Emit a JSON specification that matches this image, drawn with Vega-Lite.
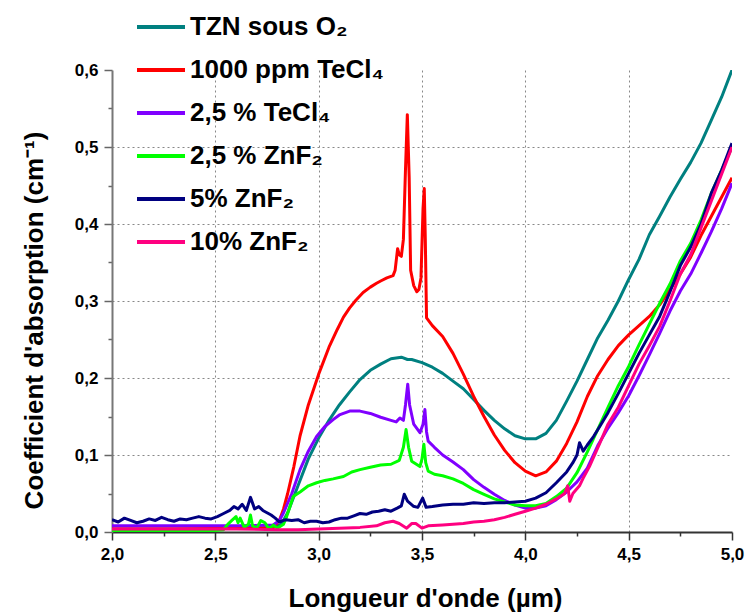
{
  "$schema": "https://vega.github.io/schema/vega-lite/v6.json",
  "width": 620,
  "height": 462,
  "autosize": {"type": "none"},
  "padding": {"left": 112, "top": 70, "right": 15, "bottom": 80},
  "background": "white",
  "config": {
    "view": {"stroke": null},
    "font": "Liberation Sans"
  },
  "datasets": {
    "spectra": [
      {"s":"TZN sous O₂","x":2.0,"y":0.004},{"s":"TZN sous O₂","x":2.2,"y":0.004},{"s":"TZN sous O₂","x":2.4,"y":0.004},{"s":"TZN sous O₂","x":2.6,"y":0.005},{"s":"TZN sous O₂","x":2.7,"y":0.005},{"s":"TZN sous O₂","x":2.78,"y":0.006},{"s":"TZN sous O₂","x":2.82,"y":0.01},{"s":"TZN sous O₂","x":2.85,"y":0.025},{"s":"TZN sous O₂","x":2.9,"y":0.06},{"s":"TZN sous O₂","x":2.95,"y":0.095},{"s":"TZN sous O₂","x":3.0,"y":0.122},{"s":"TZN sous O₂","x":3.05,"y":0.145},{"s":"TZN sous O₂","x":3.1,"y":0.165},{"s":"TZN sous O₂","x":3.15,"y":0.182},{"s":"TZN sous O₂","x":3.2,"y":0.198},{"s":"TZN sous O₂","x":3.25,"y":0.21},{"s":"TZN sous O₂","x":3.3,"y":0.218},{"s":"TZN sous O₂","x":3.35,"y":0.225},{"s":"TZN sous O₂","x":3.4,"y":0.227},{"s":"TZN sous O₂","x":3.43,"y":0.224},{"s":"TZN sous O₂","x":3.45,"y":0.224},{"s":"TZN sous O₂","x":3.5,"y":0.22},{"s":"TZN sous O₂","x":3.55,"y":0.214},{"s":"TZN sous O₂","x":3.6,"y":0.206},{"s":"TZN sous O₂","x":3.65,"y":0.196},{"s":"TZN sous O₂","x":3.7,"y":0.186},{"s":"TZN sous O₂","x":3.75,"y":0.172},{"s":"TZN sous O₂","x":3.8,"y":0.158},{"s":"TZN sous O₂","x":3.85,"y":0.145},{"s":"TZN sous O₂","x":3.9,"y":0.134},{"s":"TZN sous O₂","x":3.95,"y":0.125},{"s":"TZN sous O₂","x":4.0,"y":0.121},{"s":"TZN sous O₂","x":4.05,"y":0.121},{"s":"TZN sous O₂","x":4.1,"y":0.128},{"s":"TZN sous O₂","x":4.15,"y":0.145},{"s":"TZN sous O₂","x":4.2,"y":0.17},{"s":"TZN sous O₂","x":4.25,"y":0.196},{"s":"TZN sous O₂","x":4.3,"y":0.224},{"s":"TZN sous O₂","x":4.35,"y":0.252},{"s":"TZN sous O₂","x":4.4,"y":0.275},{"s":"TZN sous O₂","x":4.45,"y":0.3},{"s":"TZN sous O₂","x":4.5,"y":0.328},{"s":"TZN sous O₂","x":4.55,"y":0.354},{"s":"TZN sous O₂","x":4.6,"y":0.386},{"s":"TZN sous O₂","x":4.65,"y":0.41},{"s":"TZN sous O₂","x":4.7,"y":0.435},{"s":"TZN sous O₂","x":4.75,"y":0.458},{"s":"TZN sous O₂","x":4.8,"y":0.48},{"s":"TZN sous O₂","x":4.85,"y":0.505},{"s":"TZN sous O₂","x":4.9,"y":0.535},{"s":"TZN sous O₂","x":4.95,"y":0.565},{"s":"TZN sous O₂","x":5.0,"y":0.6},

      {"s":"1000 ppm TeCl₄","x":2.0,"y":0.004},{"s":"1000 ppm TeCl₄","x":2.3,"y":0.004},{"s":"1000 ppm TeCl₄","x":2.6,"y":0.005},{"s":"1000 ppm TeCl₄","x":2.78,"y":0.006},{"s":"1000 ppm TeCl₄","x":2.81,"y":0.015},{"s":"1000 ppm TeCl₄","x":2.83,"y":0.03},{"s":"1000 ppm TeCl₄","x":2.85,"y":0.05},{"s":"1000 ppm TeCl₄","x":2.88,"y":0.085},{"s":"1000 ppm TeCl₄","x":2.91,"y":0.125},{"s":"1000 ppm TeCl₄","x":2.95,"y":0.165},{"s":"1000 ppm TeCl₄","x":3.0,"y":0.205},{"s":"1000 ppm TeCl₄","x":3.05,"y":0.24},{"s":"1000 ppm TeCl₄","x":3.09,"y":0.263},{"s":"1000 ppm TeCl₄","x":3.12,"y":0.279},{"s":"1000 ppm TeCl₄","x":3.15,"y":0.291},{"s":"1000 ppm TeCl₄","x":3.18,"y":0.301},{"s":"1000 ppm TeCl₄","x":3.215,"y":0.311},{"s":"1000 ppm TeCl₄","x":3.25,"y":0.318},{"s":"1000 ppm TeCl₄","x":3.28,"y":0.323},{"s":"1000 ppm TeCl₄","x":3.3,"y":0.326},{"s":"1000 ppm TeCl₄","x":3.33,"y":0.33},{"s":"1000 ppm TeCl₄","x":3.36,"y":0.333},{"s":"1000 ppm TeCl₄","x":3.37,"y":0.34},{"s":"1000 ppm TeCl₄","x":3.382,"y":0.368},{"s":"1000 ppm TeCl₄","x":3.39,"y":0.36},{"s":"1000 ppm TeCl₄","x":3.4,"y":0.358},{"s":"1000 ppm TeCl₄","x":3.41,"y":0.38},{"s":"1000 ppm TeCl₄","x":3.42,"y":0.47},{"s":"1000 ppm TeCl₄","x":3.429,"y":0.542},{"s":"1000 ppm TeCl₄","x":3.438,"y":0.46},{"s":"1000 ppm TeCl₄","x":3.445,"y":0.34},{"s":"1000 ppm TeCl₄","x":3.46,"y":0.32},{"s":"1000 ppm TeCl₄","x":3.475,"y":0.312},{"s":"1000 ppm TeCl₄","x":3.485,"y":0.315},{"s":"1000 ppm TeCl₄","x":3.495,"y":0.33},{"s":"1000 ppm TeCl₄","x":3.505,"y":0.42},{"s":"1000 ppm TeCl₄","x":3.511,"y":0.446},{"s":"1000 ppm TeCl₄","x":3.516,"y":0.38},{"s":"1000 ppm TeCl₄","x":3.522,"y":0.278},{"s":"1000 ppm TeCl₄","x":3.55,"y":0.268},{"s":"1000 ppm TeCl₄","x":3.6,"y":0.254},{"s":"1000 ppm TeCl₄","x":3.65,"y":0.232},{"s":"1000 ppm TeCl₄","x":3.7,"y":0.205},{"s":"1000 ppm TeCl₄","x":3.75,"y":0.176},{"s":"1000 ppm TeCl₄","x":3.8,"y":0.15},{"s":"1000 ppm TeCl₄","x":3.85,"y":0.126},{"s":"1000 ppm TeCl₄","x":3.9,"y":0.106},{"s":"1000 ppm TeCl₄","x":3.95,"y":0.09},{"s":"1000 ppm TeCl₄","x":4.0,"y":0.079},{"s":"1000 ppm TeCl₄","x":4.05,"y":0.073},{"s":"1000 ppm TeCl₄","x":4.1,"y":0.078},{"s":"1000 ppm TeCl₄","x":4.15,"y":0.092},{"s":"1000 ppm TeCl₄","x":4.2,"y":0.115},{"s":"1000 ppm TeCl₄","x":4.25,"y":0.143},{"s":"1000 ppm TeCl₄","x":4.3,"y":0.176},{"s":"1000 ppm TeCl₄","x":4.35,"y":0.203},{"s":"1000 ppm TeCl₄","x":4.4,"y":0.224},{"s":"1000 ppm TeCl₄","x":4.45,"y":0.242},{"s":"1000 ppm TeCl₄","x":4.5,"y":0.256},{"s":"1000 ppm TeCl₄","x":4.55,"y":0.268},{"s":"1000 ppm TeCl₄","x":4.6,"y":0.28},{"s":"1000 ppm TeCl₄","x":4.65,"y":0.295},{"s":"1000 ppm TeCl₄","x":4.7,"y":0.315},{"s":"1000 ppm TeCl₄","x":4.75,"y":0.335},{"s":"1000 ppm TeCl₄","x":4.8,"y":0.357},{"s":"1000 ppm TeCl₄","x":4.85,"y":0.385},{"s":"1000 ppm TeCl₄","x":4.9,"y":0.41},{"s":"1000 ppm TeCl₄","x":4.95,"y":0.435},{"s":"1000 ppm TeCl₄","x":5.0,"y":0.46},

      {"s":"2,5 % TeCl₄","x":2.0,"y":0.008},{"s":"2,5 % TeCl₄","x":2.3,"y":0.008},{"s":"2,5 % TeCl₄","x":2.6,"y":0.008},{"s":"2,5 % TeCl₄","x":2.78,"y":0.009},{"s":"2,5 % TeCl₄","x":2.81,"y":0.015},{"s":"2,5 % TeCl₄","x":2.83,"y":0.025},{"s":"2,5 % TeCl₄","x":2.87,"y":0.05},{"s":"2,5 % TeCl₄","x":2.91,"y":0.081},{"s":"2,5 % TeCl₄","x":2.95,"y":0.105},{"s":"2,5 % TeCl₄","x":2.99,"y":0.124},{"s":"2,5 % TeCl₄","x":3.03,"y":0.137},{"s":"2,5 % TeCl₄","x":3.07,"y":0.146},{"s":"2,5 % TeCl₄","x":3.1,"y":0.152},{"s":"2,5 % TeCl₄","x":3.15,"y":0.157},{"s":"2,5 % TeCl₄","x":3.2,"y":0.157},{"s":"2,5 % TeCl₄","x":3.25,"y":0.154},{"s":"2,5 % TeCl₄","x":3.3,"y":0.149},{"s":"2,5 % TeCl₄","x":3.35,"y":0.145},{"s":"2,5 % TeCl₄","x":3.375,"y":0.143},{"s":"2,5 % TeCl₄","x":3.393,"y":0.148},{"s":"2,5 % TeCl₄","x":3.41,"y":0.145},{"s":"2,5 % TeCl₄","x":3.42,"y":0.165},{"s":"2,5 % TeCl₄","x":3.431,"y":0.192},{"s":"2,5 % TeCl₄","x":3.44,"y":0.165},{"s":"2,5 % TeCl₄","x":3.46,"y":0.14},{"s":"2,5 % TeCl₄","x":3.49,"y":0.129},{"s":"2,5 % TeCl₄","x":3.505,"y":0.14},{"s":"2,5 % TeCl₄","x":3.514,"y":0.159},{"s":"2,5 % TeCl₄","x":3.522,"y":0.13},{"s":"2,5 % TeCl₄","x":3.53,"y":0.118},{"s":"2,5 % TeCl₄","x":3.56,"y":0.11},{"s":"2,5 % TeCl₄","x":3.6,"y":0.1},{"s":"2,5 % TeCl₄","x":3.65,"y":0.091},{"s":"2,5 % TeCl₄","x":3.7,"y":0.081},{"s":"2,5 % TeCl₄","x":3.75,"y":0.068},{"s":"2,5 % TeCl₄","x":3.8,"y":0.058},{"s":"2,5 % TeCl₄","x":3.85,"y":0.049},{"s":"2,5 % TeCl₄","x":3.9,"y":0.041},{"s":"2,5 % TeCl₄","x":3.95,"y":0.035},{"s":"2,5 % TeCl₄","x":4.0,"y":0.031},{"s":"2,5 % TeCl₄","x":4.05,"y":0.031},{"s":"2,5 % TeCl₄","x":4.1,"y":0.034},{"s":"2,5 % TeCl₄","x":4.15,"y":0.042},{"s":"2,5 % TeCl₄","x":4.2,"y":0.052},{"s":"2,5 % TeCl₄","x":4.25,"y":0.065},{"s":"2,5 % TeCl₄","x":4.3,"y":0.083},{"s":"2,5 % TeCl₄","x":4.35,"y":0.112},{"s":"2,5 % TeCl₄","x":4.4,"y":0.135},{"s":"2,5 % TeCl₄","x":4.45,"y":0.155},{"s":"2,5 % TeCl₄","x":4.5,"y":0.177},{"s":"2,5 % TeCl₄","x":4.55,"y":0.203},{"s":"2,5 % TeCl₄","x":4.6,"y":0.23},{"s":"2,5 % TeCl₄","x":4.65,"y":0.258},{"s":"2,5 % TeCl₄","x":4.7,"y":0.287},{"s":"2,5 % TeCl₄","x":4.75,"y":0.313},{"s":"2,5 % TeCl₄","x":4.8,"y":0.335},{"s":"2,5 % TeCl₄","x":4.85,"y":0.362},{"s":"2,5 % TeCl₄","x":4.9,"y":0.39},{"s":"2,5 % TeCl₄","x":4.95,"y":0.42},{"s":"2,5 % TeCl₄","x":5.0,"y":0.453},

      {"s":"2,5 % ZnF₂","x":2.0,"y":0.002},{"s":"2,5 % ZnF₂","x":2.2,"y":0.002},{"s":"2,5 % ZnF₂","x":2.4,"y":0.002},{"s":"2,5 % ZnF₂","x":2.5,"y":0.002},{"s":"2,5 % ZnF₂","x":2.54,"y":0.003},{"s":"2,5 % ZnF₂","x":2.56,"y":0.01},{"s":"2,5 % ZnF₂","x":2.58,"y":0.015},{"s":"2,5 % ZnF₂","x":2.6,"y":0.02},{"s":"2,5 % ZnF₂","x":2.61,"y":0.012},{"s":"2,5 % ZnF₂","x":2.62,"y":0.018},{"s":"2,5 % ZnF₂","x":2.64,"y":0.006},{"s":"2,5 % ZnF₂","x":2.66,"y":0.01},{"s":"2,5 % ZnF₂","x":2.67,"y":0.022},{"s":"2,5 % ZnF₂","x":2.68,"y":0.008},{"s":"2,5 % ZnF₂","x":2.7,"y":0.005},{"s":"2,5 % ZnF₂","x":2.72,"y":0.015},{"s":"2,5 % ZnF₂","x":2.74,"y":0.012},{"s":"2,5 % ZnF₂","x":2.76,"y":0.004},{"s":"2,5 % ZnF₂","x":2.78,"y":0.009},{"s":"2,5 % ZnF₂","x":2.8,"y":0.005},{"s":"2,5 % ZnF₂","x":2.83,"y":0.01},{"s":"2,5 % ZnF₂","x":2.845,"y":0.02},{"s":"2,5 % ZnF₂","x":2.877,"y":0.046},{"s":"2,5 % ZnF₂","x":2.91,"y":0.052},{"s":"2,5 % ZnF₂","x":2.95,"y":0.06},{"s":"2,5 % ZnF₂","x":2.99,"y":0.064},{"s":"2,5 % ZnF₂","x":3.03,"y":0.067},{"s":"2,5 % ZnF₂","x":3.07,"y":0.069},{"s":"2,5 % ZnF₂","x":3.12,"y":0.072},{"s":"2,5 % ZnF₂","x":3.16,"y":0.078},{"s":"2,5 % ZnF₂","x":3.2,"y":0.081},{"s":"2,5 % ZnF₂","x":3.25,"y":0.084},{"s":"2,5 % ZnF₂","x":3.3,"y":0.087},{"s":"2,5 % ZnF₂","x":3.35,"y":0.088},{"s":"2,5 % ZnF₂","x":3.39,"y":0.093},{"s":"2,5 % ZnF₂","x":3.41,"y":0.11},{"s":"2,5 % ZnF₂","x":3.423,"y":0.133},{"s":"2,5 % ZnF₂","x":3.435,"y":0.11},{"s":"2,5 % ZnF₂","x":3.45,"y":0.092},{"s":"2,5 % ZnF₂","x":3.49,"y":0.085},{"s":"2,5 % ZnF₂","x":3.5,"y":0.095},{"s":"2,5 % ZnF₂","x":3.509,"y":0.114},{"s":"2,5 % ZnF₂","x":3.518,"y":0.09},{"s":"2,5 % ZnF₂","x":3.53,"y":0.079},{"s":"2,5 % ZnF₂","x":3.56,"y":0.075},{"s":"2,5 % ZnF₂","x":3.6,"y":0.073},{"s":"2,5 % ZnF₂","x":3.65,"y":0.069},{"s":"2,5 % ZnF₂","x":3.7,"y":0.063},{"s":"2,5 % ZnF₂","x":3.75,"y":0.055},{"s":"2,5 % ZnF₂","x":3.8,"y":0.049},{"s":"2,5 % ZnF₂","x":3.85,"y":0.043},{"s":"2,5 % ZnF₂","x":3.9,"y":0.039},{"s":"2,5 % ZnF₂","x":3.95,"y":0.035},{"s":"2,5 % ZnF₂","x":4.0,"y":0.034},{"s":"2,5 % ZnF₂","x":4.05,"y":0.034},{"s":"2,5 % ZnF₂","x":4.1,"y":0.037},{"s":"2,5 % ZnF₂","x":4.15,"y":0.046},{"s":"2,5 % ZnF₂","x":4.2,"y":0.057},{"s":"2,5 % ZnF₂","x":4.25,"y":0.077},{"s":"2,5 % ZnF₂","x":4.3,"y":0.104},{"s":"2,5 % ZnF₂","x":4.35,"y":0.133},{"s":"2,5 % ZnF₂","x":4.4,"y":0.162},{"s":"2,5 % ZnF₂","x":4.45,"y":0.19},{"s":"2,5 % ZnF₂","x":4.5,"y":0.215},{"s":"2,5 % ZnF₂","x":4.55,"y":0.243},{"s":"2,5 % ZnF₂","x":4.6,"y":0.27},{"s":"2,5 % ZnF₂","x":4.65,"y":0.297},{"s":"2,5 % ZnF₂","x":4.7,"y":0.322},{"s":"2,5 % ZnF₂","x":4.75,"y":0.352},{"s":"2,5 % ZnF₂","x":4.8,"y":0.375},{"s":"2,5 % ZnF₂","x":4.85,"y":0.405},{"s":"2,5 % ZnF₂","x":4.9,"y":0.44},{"s":"2,5 % ZnF₂","x":4.95,"y":0.47},{"s":"2,5 % ZnF₂","x":5.0,"y":0.5},

      {"s":"5% ZnF₂","x":2.0,"y":0.016},{"s":"5% ZnF₂","x":2.03,"y":0.013},{"s":"5% ZnF₂","x":2.06,"y":0.018},{"s":"5% ZnF₂","x":2.09,"y":0.015},{"s":"5% ZnF₂","x":2.12,"y":0.012},{"s":"5% ZnF₂","x":2.15,"y":0.014},{"s":"5% ZnF₂","x":2.18,"y":0.017},{"s":"5% ZnF₂","x":2.21,"y":0.015},{"s":"5% ZnF₂","x":2.24,"y":0.019},{"s":"5% ZnF₂","x":2.27,"y":0.016},{"s":"5% ZnF₂","x":2.3,"y":0.014},{"s":"5% ZnF₂","x":2.33,"y":0.017},{"s":"5% ZnF₂","x":2.36,"y":0.016},{"s":"5% ZnF₂","x":2.39,"y":0.018},{"s":"5% ZnF₂","x":2.42,"y":0.02},{"s":"5% ZnF₂","x":2.45,"y":0.018},{"s":"5% ZnF₂","x":2.48,"y":0.017},{"s":"5% ZnF₂","x":2.51,"y":0.02},{"s":"5% ZnF₂","x":2.54,"y":0.024},{"s":"5% ZnF₂","x":2.57,"y":0.028},{"s":"5% ZnF₂","x":2.59,"y":0.033},{"s":"5% ZnF₂","x":2.61,"y":0.03},{"s":"5% ZnF₂","x":2.63,"y":0.036},{"s":"5% ZnF₂","x":2.65,"y":0.028},{"s":"5% ZnF₂","x":2.67,"y":0.045},{"s":"5% ZnF₂","x":2.69,"y":0.03},{"s":"5% ZnF₂","x":2.71,"y":0.033},{"s":"5% ZnF₂","x":2.73,"y":0.028},{"s":"5% ZnF₂","x":2.75,"y":0.025},{"s":"5% ZnF₂","x":2.77,"y":0.022},{"s":"5% ZnF₂","x":2.79,"y":0.018},{"s":"5% ZnF₂","x":2.81,"y":0.013},{"s":"5% ZnF₂","x":2.84,"y":0.016},{"s":"5% ZnF₂","x":2.87,"y":0.015},{"s":"5% ZnF₂","x":2.9,"y":0.016},{"s":"5% ZnF₂","x":2.93,"y":0.012},{"s":"5% ZnF₂","x":2.96,"y":0.014},{"s":"5% ZnF₂","x":2.99,"y":0.014},{"s":"5% ZnF₂","x":3.02,"y":0.012},{"s":"5% ZnF₂","x":3.05,"y":0.013},{"s":"5% ZnF₂","x":3.08,"y":0.016},{"s":"5% ZnF₂","x":3.11,"y":0.018},{"s":"5% ZnF₂","x":3.14,"y":0.018},{"s":"5% ZnF₂","x":3.17,"y":0.021},{"s":"5% ZnF₂","x":3.2,"y":0.024},{"s":"5% ZnF₂","x":3.23,"y":0.023},{"s":"5% ZnF₂","x":3.26,"y":0.026},{"s":"5% ZnF₂","x":3.29,"y":0.027},{"s":"5% ZnF₂","x":3.32,"y":0.029},{"s":"5% ZnF₂","x":3.35,"y":0.027},{"s":"5% ZnF₂","x":3.38,"y":0.031},{"s":"5% ZnF₂","x":3.4,"y":0.034},{"s":"5% ZnF₂","x":3.414,"y":0.049},{"s":"5% ZnF₂","x":3.43,"y":0.04},{"s":"5% ZnF₂","x":3.458,"y":0.0335},{"s":"5% ZnF₂","x":3.48,"y":0.032},{"s":"5% ZnF₂","x":3.503,"y":0.044},{"s":"5% ZnF₂","x":3.52,"y":0.032},{"s":"5% ZnF₂","x":3.55,"y":0.033},{"s":"5% ZnF₂","x":3.6,"y":0.035},{"s":"5% ZnF₂","x":3.65,"y":0.036},{"s":"5% ZnF₂","x":3.7,"y":0.036},{"s":"5% ZnF₂","x":3.75,"y":0.038},{"s":"5% ZnF₂","x":3.8,"y":0.037},{"s":"5% ZnF₂","x":3.85,"y":0.038},{"s":"5% ZnF₂","x":3.9,"y":0.038},{"s":"5% ZnF₂","x":3.95,"y":0.039},{"s":"5% ZnF₂","x":4.0,"y":0.04},{"s":"5% ZnF₂","x":4.05,"y":0.044},{"s":"5% ZnF₂","x":4.1,"y":0.051},{"s":"5% ZnF₂","x":4.15,"y":0.064},{"s":"5% ZnF₂","x":4.2,"y":0.078},{"s":"5% ZnF₂","x":4.23,"y":0.09},{"s":"5% ZnF₂","x":4.25,"y":0.1},{"s":"5% ZnF₂","x":4.262,"y":0.116},{"s":"5% ZnF₂","x":4.28,"y":0.105},{"s":"5% ZnF₂","x":4.3,"y":0.113},{"s":"5% ZnF₂","x":4.33,"y":0.124},{"s":"5% ZnF₂","x":4.36,"y":0.137},{"s":"5% ZnF₂","x":4.4,"y":0.155},{"s":"5% ZnF₂","x":4.45,"y":0.18},{"s":"5% ZnF₂","x":4.5,"y":0.206},{"s":"5% ZnF₂","x":4.55,"y":0.232},{"s":"5% ZnF₂","x":4.6,"y":0.256},{"s":"5% ZnF₂","x":4.65,"y":0.28},{"s":"5% ZnF₂","x":4.7,"y":0.312},{"s":"5% ZnF₂","x":4.75,"y":0.346},{"s":"5% ZnF₂","x":4.8,"y":0.37},{"s":"5% ZnF₂","x":4.85,"y":0.4},{"s":"5% ZnF₂","x":4.9,"y":0.44},{"s":"5% ZnF₂","x":4.95,"y":0.47},{"s":"5% ZnF₂","x":5.0,"y":0.505},

      {"s":"10% ZnF₂","x":2.0,"y":0.004},{"s":"10% ZnF₂","x":2.3,"y":0.004},{"s":"10% ZnF₂","x":2.6,"y":0.004},{"s":"10% ZnF₂","x":2.8,"y":0.003},{"s":"10% ZnF₂","x":2.9,"y":0.003},{"s":"10% ZnF₂","x":3.0,"y":0.004},{"s":"10% ZnF₂","x":3.1,"y":0.005},{"s":"10% ZnF₂","x":3.2,"y":0.006},{"s":"10% ZnF₂","x":3.28,"y":0.008},{"s":"10% ZnF₂","x":3.32,"y":0.012},{"s":"10% ZnF₂","x":3.36,"y":0.014},{"s":"10% ZnF₂","x":3.39,"y":0.011},{"s":"10% ZnF₂","x":3.426,"y":0.005},{"s":"10% ZnF₂","x":3.45,"y":0.011},{"s":"10% ZnF₂","x":3.47,"y":0.011},{"s":"10% ZnF₂","x":3.5,"y":0.005},{"s":"10% ZnF₂","x":3.53,"y":0.008},{"s":"10% ZnF₂","x":3.6,"y":0.009},{"s":"10% ZnF₂","x":3.7,"y":0.011},{"s":"10% ZnF₂","x":3.75,"y":0.013},{"s":"10% ZnF₂","x":3.8,"y":0.014},{"s":"10% ZnF₂","x":3.85,"y":0.016},{"s":"10% ZnF₂","x":3.9,"y":0.019},{"s":"10% ZnF₂","x":3.95,"y":0.023},{"s":"10% ZnF₂","x":4.0,"y":0.027},{"s":"10% ZnF₂","x":4.05,"y":0.031},{"s":"10% ZnF₂","x":4.1,"y":0.036},{"s":"10% ZnF₂","x":4.15,"y":0.043},{"s":"10% ZnF₂","x":4.19,"y":0.05},{"s":"10% ZnF₂","x":4.205,"y":0.06},{"s":"10% ZnF₂","x":4.215,"y":0.04},{"s":"10% ZnF₂","x":4.23,"y":0.05},{"s":"10% ZnF₂","x":4.262,"y":0.06},{"s":"10% ZnF₂","x":4.28,"y":0.07},{"s":"10% ZnF₂","x":4.31,"y":0.085},{"s":"10% ZnF₂","x":4.36,"y":0.115},{"s":"10% ZnF₂","x":4.4,"y":0.14},{"s":"10% ZnF₂","x":4.45,"y":0.162},{"s":"10% ZnF₂","x":4.5,"y":0.19},{"s":"10% ZnF₂","x":4.55,"y":0.218},{"s":"10% ZnF₂","x":4.6,"y":0.242},{"s":"10% ZnF₂","x":4.65,"y":0.267},{"s":"10% ZnF₂","x":4.7,"y":0.3},{"s":"10% ZnF₂","x":4.75,"y":0.335},{"s":"10% ZnF₂","x":4.8,"y":0.36},{"s":"10% ZnF₂","x":4.85,"y":0.395},{"s":"10% ZnF₂","x":4.9,"y":0.43},{"s":"10% ZnF₂","x":4.95,"y":0.465},{"s":"10% ZnF₂","x":5.0,"y":0.5}
    ]
  },
  "data": {"name": "spectra"},
  "mark": {"type": "line", "strokeWidth": 3, "strokeJoin": "round", "clip": true},
  "encoding": {
    "x": {
      "field": "x", "type": "quantitative",
      "scale": {"domain": [2, 5], "nice": false, "zero": false},
      "axis": {
        "title": "Longueur d'onde (µm)",
        "values": [2, 2.25, 2.5, 2.75, 3, 3.25, 3.5, 3.75, 4, 4.25, 4.5, 4.75, 5],
        "labelExpr": "abs(datum.value*2-round(datum.value*2))<0.001 ? replace(format(datum.value,'.1f'),'.',',') : ''",
        "labelFont": "Liberation Sans", "labelFontWeight": "bold", "labelFontSize": 17, "labelColor": "black",
        "labelPadding": 6, "labelFlush": false, "labelOverlap": false,
        "tickSize": {"condition": {"test": "abs(datum.value*2-round(datum.value*2))>0.001", "value": 4}, "value": 8},
        "tickColor": "#333", "tickWidth": 1.5,
        "domainColor": "#333", "domainWidth": 2,
        "grid": true, "gridColor": "#888888", "gridDash": [2, 3], "gridWidth": 1,
        "gridOpacity": {"condition": {"test": "abs(datum.value*2-round(datum.value*2))>0.001 || datum.value>4.99 || datum.value<2.01", "value": 0}, "value": 1},
        "titleFont": "Liberation Sans", "titleFontWeight": "bold", "titleFontSize": 26, "titleColor": "black",
        "titleX": 313, "titleY": 74, "titleAlign": "center", "titleBaseline": "alphabetic"
      }
    },
    "y": {
      "field": "y", "type": "quantitative",
      "scale": {"domain": [0, 0.6], "nice": false},
      "axis": {
        "title": "Coefficient d'absorption (cm⁻¹)",
        "values": [0, 0.05, 0.1, 0.15, 0.2, 0.25, 0.3, 0.35, 0.4, 0.45, 0.5, 0.55, 0.6],
        "labelExpr": "abs(datum.value*10-round(datum.value*10))<0.001 ? replace(format(datum.value,'.1f'),'.',',') : ''",
        "labelFont": "Liberation Sans", "labelFontWeight": "bold", "labelFontSize": 17, "labelColor": "black",
        "labelPadding": 6, "labelFlush": false, "labelOverlap": false,
        "tickSize": {"condition": {"test": "abs(datum.value*10-round(datum.value*10))>0.001", "value": 4}, "value": 8},
        "tickColor": "#666", "tickWidth": 1.5,
        "domainColor": "#777", "domainWidth": 2,
        "grid": true, "gridColor": "#888888", "gridDash": [2, 3], "gridWidth": 1,
        "gridOpacity": {"condition": {"test": "abs(datum.value*10-round(datum.value*10))>0.001 || datum.value>0.59 || datum.value<0.01", "value": 0}, "value": 1},
        "titleFont": "Liberation Sans", "titleFontWeight": "bold", "titleFontSize": 26, "titleColor": "black",
        "titleX": -70, "titleY": 250, "titleAngle": -90, "titleAlign": "center", "titleBaseline": "alphabetic"
      }
    },
    "color": {
      "field": "s", "type": "nominal",
      "scale": {
        "domain": ["TZN sous O₂", "1000 ppm TeCl₄", "2,5 % TeCl₄", "2,5 % ZnF₂", "5% ZnF₂", "10% ZnF₂"],
        "range": ["#008080", "#FF0000", "#8000FF", "#00FF00", "#000080", "#FF0080"]
      },
      "legend": {
        "title": null,
        "orient": "none", "legendX": 35, "legendY": -57,
        "padding": 0,
        "symbolType": "M-2,0H2", "symbolSize": 576, "symbolStrokeWidth": 4,
        "labelFont": "Liberation Sans", "labelFontWeight": "bold", "labelFontSize": 26, "labelColor": "black",
        "labelOffset": 15, "labelLimit": 400, "rowPadding": 16
      }
    },
    "order": {"field": "x", "type": "quantitative"}
  }
}
